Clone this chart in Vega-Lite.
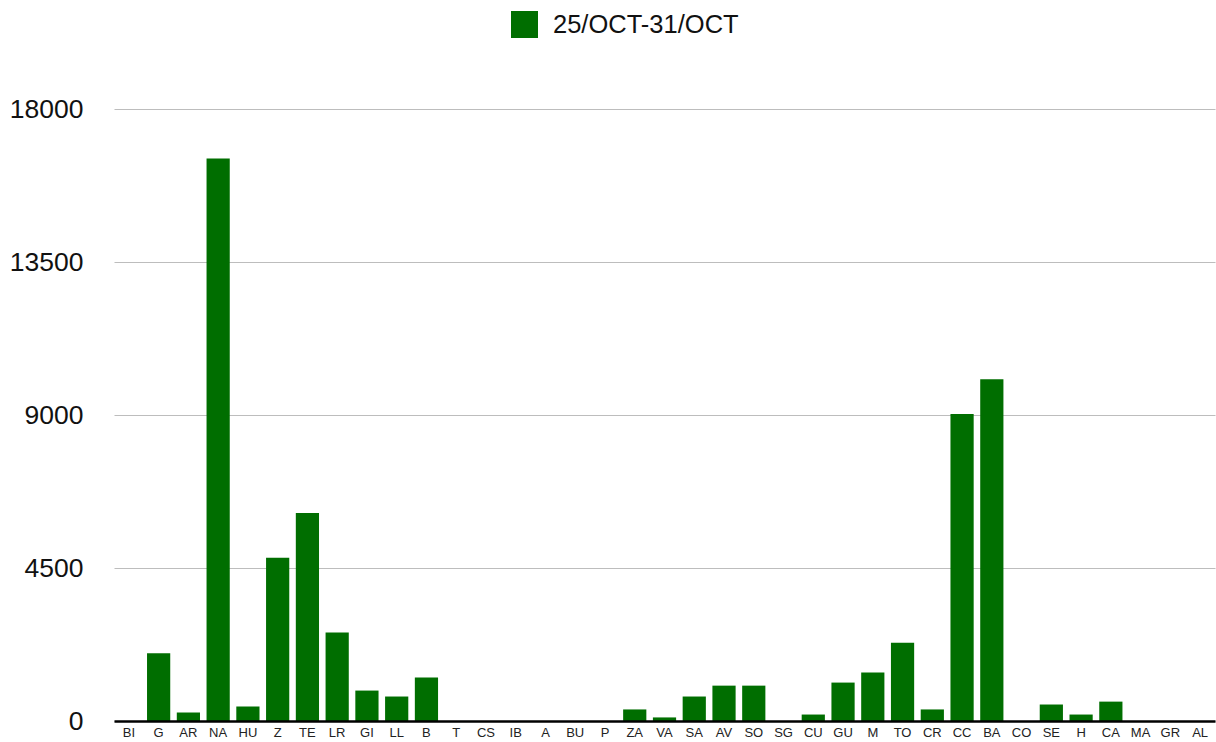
{
  "$schema": "https://vega.github.io/schema/vega-lite/v6.json",
  "width": 1101,
  "height": 612,
  "autosize": {"type": "none"},
  "padding": {"left": 114, "top": 109, "right": 1, "bottom": 21},
  "background": "white",
  "config": {
    "view": {"stroke": null},
    "font": "Liberation Sans"
  },
  "data": {
    "values": [
      {"prov": "BI", "value": 0, "series": "25/OCT-31/OCT"},
      {"prov": "G", "value": 1990, "series": "25/OCT-31/OCT"},
      {"prov": "AR", "value": 250, "series": "25/OCT-31/OCT"},
      {"prov": "NA", "value": 16545, "series": "25/OCT-31/OCT"},
      {"prov": "HU", "value": 430, "series": "25/OCT-31/OCT"},
      {"prov": "Z", "value": 4800, "series": "25/OCT-31/OCT"},
      {"prov": "TE", "value": 6120, "series": "25/OCT-31/OCT"},
      {"prov": "LR", "value": 2600, "series": "25/OCT-31/OCT"},
      {"prov": "GI", "value": 895, "series": "25/OCT-31/OCT"},
      {"prov": "LL", "value": 720, "series": "25/OCT-31/OCT"},
      {"prov": "B", "value": 1280, "series": "25/OCT-31/OCT"},
      {"prov": "T", "value": 0, "series": "25/OCT-31/OCT"},
      {"prov": "CS", "value": 0, "series": "25/OCT-31/OCT"},
      {"prov": "IB", "value": 0, "series": "25/OCT-31/OCT"},
      {"prov": "A", "value": 0, "series": "25/OCT-31/OCT"},
      {"prov": "BU", "value": 0, "series": "25/OCT-31/OCT"},
      {"prov": "P", "value": 0, "series": "25/OCT-31/OCT"},
      {"prov": "ZA", "value": 340, "series": "25/OCT-31/OCT"},
      {"prov": "VA", "value": 105, "series": "25/OCT-31/OCT"},
      {"prov": "SA", "value": 720, "series": "25/OCT-31/OCT"},
      {"prov": "AV", "value": 1040, "series": "25/OCT-31/OCT"},
      {"prov": "SO", "value": 1040, "series": "25/OCT-31/OCT"},
      {"prov": "SG", "value": 0, "series": "25/OCT-31/OCT"},
      {"prov": "CU", "value": 190, "series": "25/OCT-31/OCT"},
      {"prov": "GU", "value": 1130, "series": "25/OCT-31/OCT"},
      {"prov": "M", "value": 1425, "series": "25/OCT-31/OCT"},
      {"prov": "TO", "value": 2305, "series": "25/OCT-31/OCT"},
      {"prov": "CR", "value": 340, "series": "25/OCT-31/OCT"},
      {"prov": "CC", "value": 9030, "series": "25/OCT-31/OCT"},
      {"prov": "BA", "value": 10055, "series": "25/OCT-31/OCT"},
      {"prov": "CO", "value": 0, "series": "25/OCT-31/OCT"},
      {"prov": "SE", "value": 485, "series": "25/OCT-31/OCT"},
      {"prov": "H", "value": 190, "series": "25/OCT-31/OCT"},
      {"prov": "CA", "value": 570, "series": "25/OCT-31/OCT"},
      {"prov": "MA", "value": 0, "series": "25/OCT-31/OCT"},
      {"prov": "GR", "value": 0, "series": "25/OCT-31/OCT"},
      {"prov": "AL", "value": 0, "series": "25/OCT-31/OCT"}
    ]
  },
  "mark": {"type": "bar"},
  "encoding": {
    "x": {
      "field": "prov",
      "type": "nominal",
      "sort": null,
      "scale": {"paddingInner": 0.22, "paddingOuter": 0.11},
      "axis": {
        "title": null,
        "labelAngle": 0,
        "labelFontSize": 13,
        "labelColor": "#222222",
        "labelPadding": 5,
        "ticks": false,
        "domainColor": "#000000",
        "domainWidth": 2.5,
        "zindex": 1
      }
    },
    "y": {
      "field": "value",
      "type": "quantitative",
      "scale": {"domain": [0, 18000], "nice": false},
      "axis": {
        "title": null,
        "values": [0, 4500, 9000, 13500, 18000],
        "format": "d",
        "labelFontSize": 26.5,
        "labelColor": "#111111",
        "labelPadding": 31,
        "ticks": false,
        "domain": false,
        "gridColor": "#bdbdbd",
        "gridWidth": 1
      }
    },
    "color": {
      "field": "series",
      "type": "nominal",
      "scale": {"range": ["#006e00"]},
      "legend": {
        "title": null,
        "orient": "none",
        "legendX": 397,
        "legendY": -98,
        "symbolType": "square",
        "symbolSize": 729,
        "symbolStrokeWidth": 0,
        "labelFontSize": 25.5,
        "labelColor": "#111111",
        "labelOffset": 15,
        "labelLimit": 400,
        "padding": 0
      }
    }
  }
}
